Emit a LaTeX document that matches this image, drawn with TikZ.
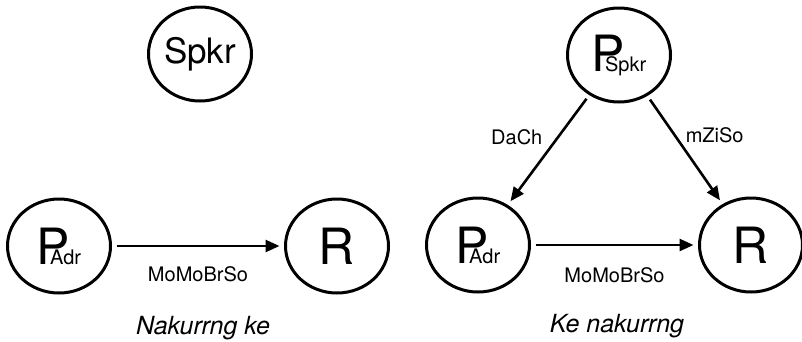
\documentclass[tikz,border=0pt]{standalone}
\usepackage{fontspec}
\setmainfont{TeX Gyre Heros}
\usetikzlibrary{arrows.meta,shapes.geometric}

\newcommand{\partP}[1]{{\fontsize{50}{50}\selectfont P}\kern-20pt{\fontsize{20}{20}\selectfont #1}}

\begin{document}
\begin{tikzpicture}[x=1pt,y=-1pt,
		agent/.style={ellipse, draw, line width=3pt, minimum width=103pt, minimum height=94pt, inner sep=0pt, outer sep=6pt},
		flow/.style={line width=2.6pt, -{Triangle[length=14pt,width=12pt]}},
		lbl/.style={inner sep=0pt, font=\fontsize{20}{24}\selectfont},
		caption/.style={inner sep=0pt, font=\fontsize{25}{30}\selectfont\itshape}]
			\useasboundingbox (0,0) rectangle (802,341);
			% left half
			\node[agent, font=\fontsize{35}{35}\selectfont] (spkr) at (200,54) {Spkr};
			\node[agent] (padrL) at (59,246) {\partP{Adr}};
			\node[agent, font=\fontsize{50}{50}\selectfont] (rL) at (337,246) {R};
			\draw[flow] (padrL) -- node[lbl, below=19pt] {MoMoBrSo} (rL);
			\node[caption] (capL) at (203,328) {Nakurrng ke};
			% right half
			\node[agent] (pspkr) at (619,55) {\partP{Spkr}};
			\node[agent] (padrR) at (478,245) {\partP{Adr}};
			\node[agent, font=\fontsize{50}{50}\selectfont] (rR) at (751,245) {R};
			\draw[flow] (pspkr) -- node[lbl, left=14pt, pos=0.38] {DaCh} (padrR);
			\draw[flow] (pspkr) -- node[lbl, right=10pt, pos=0.35] {mZiSo} (rR);
			\draw[flow] (padrR) -- node[lbl, below=21pt] {MoMoBrSo} (rR);
			\node[caption] (capR) at (617,326) {Ke nakurrng};
		\end{tikzpicture}
\end{document}
